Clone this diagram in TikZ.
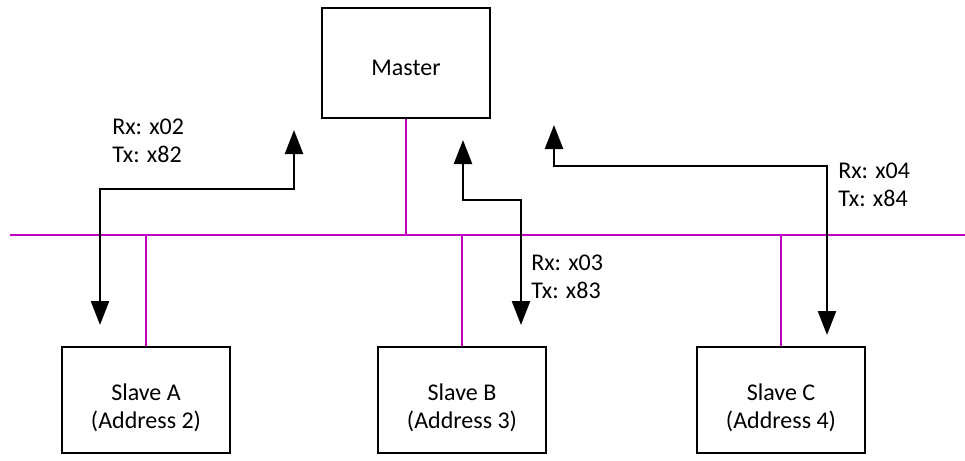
\documentclass[tikz,border=0pt]{standalone}
\usepackage{fontspec}
\setmainfont{Carlito}
\usetikzlibrary{arrows.meta,positioning}

\definecolor{busmag}{RGB}{192,0,192}

\tikzset{
  unit/.style={draw,line width=1.5pt,minimum width=126pt,inner sep=0pt},
  bus/.style={busmag,line width=2.2pt},
  tap/.style={busmag,line width=1.5pt},
  link/.style={line width=1.8pt,{Triangle[width=13.5pt,length=18pt]}-{Triangle[width=13.5pt,length=18pt]}},
  addr/.style={anchor=west,inner sep=0pt,align=left}
}

\begin{document}
\begin{tikzpicture}[x=0.75pt,y=-0.75pt,font=\fontsize{18}{21}\selectfont]
  \useasboundingbox (0,0) rectangle (965,461);

  \node[unit,minimum height=82.5pt,
    label={[yshift=-3.5pt]center:Master}] (master) at (406,63) {};
  \node[unit,minimum height=79.5pt,
    label={[align=center,yshift=-5.5pt]center:Slave A\\(Address 2)}] (slaveA) at (146,400) {};
  \node[unit,minimum height=79.5pt,
    label={[align=center,yshift=-5.5pt]center:Slave B\\(Address 3)}] (slaveB) at (462,400) {};
  \node[unit,minimum height=79.5pt,
    label={[align=center,yshift=-5.5pt]center:Slave C\\(Address 4)}] (slaveC) at (781,400) {};

  % bus
  \coordinate (busL) at (10,235);
  \coordinate (busR) at (965,235);
  \draw[bus] (busL) -- (busR);
  \draw[tap] (master.south) -- (master.south |- busL);
  \foreach \s in {slaveA,slaveB,slaveC}
    \draw[tap] (\s.north) -- (\s.north |- busL);

  % request / response paths
  \coordinate (endA) at (100,325);
  \coordinate (kneeA) at (100,189);
  \coordinate (tipA) at (294,130);
  \draw[link] (endA) -- (kneeA) -| (tipA);

  \coordinate (endB) at (521,325);
  \coordinate (kneeB) at (521,200);
  \coordinate (tipB) at (463,140);
  \draw[link] (endB) -- (kneeB) -| (tipB);

  \coordinate (endC) at (827,335);
  \coordinate (kneeC) at (827,166);
  \coordinate (tipC) at (554,125);
  \draw[link] (endC) -- (kneeC) -| (tipC);

  \node[addr] (labA) at (112,141) {Rx: x02\\Tx: x82};
  \node[addr] (labB) at (531,277) {Rx: x03\\Tx: x83};
  \node[addr] (labC) at (838,185) {Rx: x04\\Tx: x84};
\end{tikzpicture}
\end{document}
